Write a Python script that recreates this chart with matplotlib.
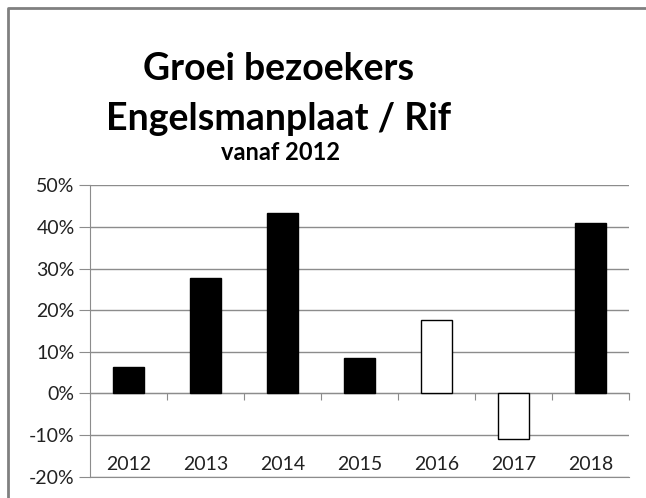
import matplotlib.pyplot as plt
from matplotlib.lines import Line2D
from matplotlib.ticker import FuncFormatter

years = ['2012', '2013', '2014', '2015', '2016', '2017', '2018']
growth = [6.3, 27.8, 43.4, 8.6, 17.7, -11.0, 41.0]
fills = ['black', 'black', 'black', 'black', 'white', 'white', 'black']

plt.rcParams['font.family'] = ['Lato', 'DejaVu Sans']

fig = plt.figure(figsize=(6.46, 4.98), dpi=100)
ax = fig.add_axes([90 / 646, 21.3 / 498, 539 / 646, 291.4 / 498])

x = list(range(len(years)))
ax.bar(x, growth, width=0.4, color=fills, edgecolor='black', linewidth=1, zorder=3)

ax.set_xlim(-0.5, len(years) - 0.5)
ax.set_ylim(-20, 50)
ax.set_yticks(range(-20, 51, 10))
ax.yaxis.set_major_formatter(FuncFormatter(lambda v, p: f'{v:.0f}%'))
ax.grid(axis='y', color='#8c8c8c', linewidth=1, zorder=0)

for s in ['top', 'right']:
    ax.spines[s].set_visible(False)
ax.spines['left'].set_color('#8c8c8c')
ax.spines['bottom'].set_color('#8c8c8c')
ax.tick_params(axis='y', length=8, color='#8c8c8c', labelsize=14, labelcolor='#222222', pad=3)

# category labels sit inside the plot, just above the bottom line
ax.set_xticks(x)
ax.set_xticklabels(years)
ax.tick_params(axis='x', length=0, labelsize=14, labelcolor='#222222', pad=-15)

# zero axis with tick marks between categories
zax = ax.secondary_xaxis(0, transform=ax.transData)
zax.spines['bottom'].set_color('#8c8c8c')
zax.set_xticks([i + 0.5 for i in x[:-1]] + [-0.5, len(years) - 0.5])
zax.set_xticklabels([])
zax.tick_params(axis='x', length=5, color='#8c8c8c', direction='out')

fig.text(279 / 646, 1 - 80 / 498, 'Groei bezoekers', ha='center', va='baseline',
         fontsize=27, fontweight='bold')
fig.text(279 / 646, 1 - 130 / 498, 'Engelsmanplaat / Rif', ha='center', va='baseline',
         fontsize=27, fontweight='bold')
fig.text(281 / 646, 1 - 160 / 498, 'vanaf 2012', ha='center', va='baseline',
         fontsize=17, fontweight='bold')

# outer chart frame (top and left edges visible)
fig.add_artist(Line2D([8 / 646, 8 / 646, 1.0], [0.0, 1 - 8 / 498, 1 - 8 / 498],
                      transform=fig.transFigure, color='#808080', linewidth=2))

fig.savefig('out.png', dpi=100)
